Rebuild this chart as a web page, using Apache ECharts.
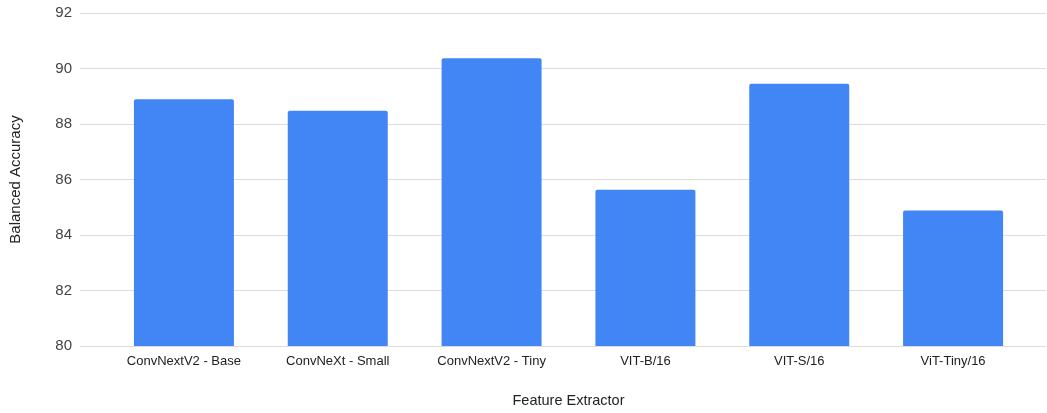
<!DOCTYPE html>
<html>
<head>
<meta charset="utf-8">
<script src="https://cdn.jsdelivr.net/npm/echarts@6/dist/echarts.min.js"></script>
<style>html,body{margin:0;padding:0;background:#fff}#c{width:1047px;height:413px}</style>
</head>
<body>
<div id="c"></div>
<script>
const categories = ['ConvNextV2 - Base', 'ConvNeXt - Small', 'ConvNextV2 - Tiny', 'VIT-B/16', 'VIT-S/16', 'ViT-Tiny/16'];
const accuracy = [88.89, 88.48, 90.37, 85.63, 89.45, 84.88];
const yMin = 80, yMax = 92, yStep = 2;

const chart = echarts.init(document.getElementById('c'), null, {renderer: 'canvas'});
const font = 'Arial, "Liberation Sans", sans-serif';
chart.setOption({
  animation: false,
  textStyle: {fontFamily: font},
  grid: [
    {left: 80, right: 1, top: 13, bottom: 67},
    {left: 107, right: 17, top: 13, bottom: 67}
  ],
  xAxis: [
    {gridIndex: 0, type: 'value', show: false, min: 0, max: 1},
    {
      gridIndex: 1, type: 'category', data: categories,
      axisLine: {show: false}, axisTick: {show: false},
      axisLabel: {color: '#222', fontSize: 13, margin: 9, fontFamily: font},
      name: 'Feature Extractor', nameLocation: 'middle', nameGap: 47,
      nameTextStyle: {color: '#222', fontSize: 14.5, fontFamily: font}
    }
  ],
  yAxis: [
    {
      gridIndex: 0, type: 'value', min: yMin, max: yMax, interval: yStep,
      axisLine: {show: false}, axisTick: {show: false},
      axisLabel: {color: '#444', fontSize: 15, margin: 8, fontFamily: font},
      splitLine: {lineStyle: {color: '#dcdcdc', width: 1}},
      name: 'Balanced Accuracy', nameLocation: 'middle', nameGap: 57, nameRotate: 90,
      nameTextStyle: {color: '#222', fontSize: 15, fontFamily: font}
    },
    {gridIndex: 1, type: 'value', min: yMin, max: yMax, interval: yStep, show: false, splitLine: {show: false}}
  ],
  series: [{
    type: 'bar', xAxisIndex: 1, yAxisIndex: 1,
    data: accuracy, barWidth: '65%',
    itemStyle: {color: '#4285f4', borderRadius: [2, 2, 0, 0]}
  }]
});
</script>
</body>
</html>
